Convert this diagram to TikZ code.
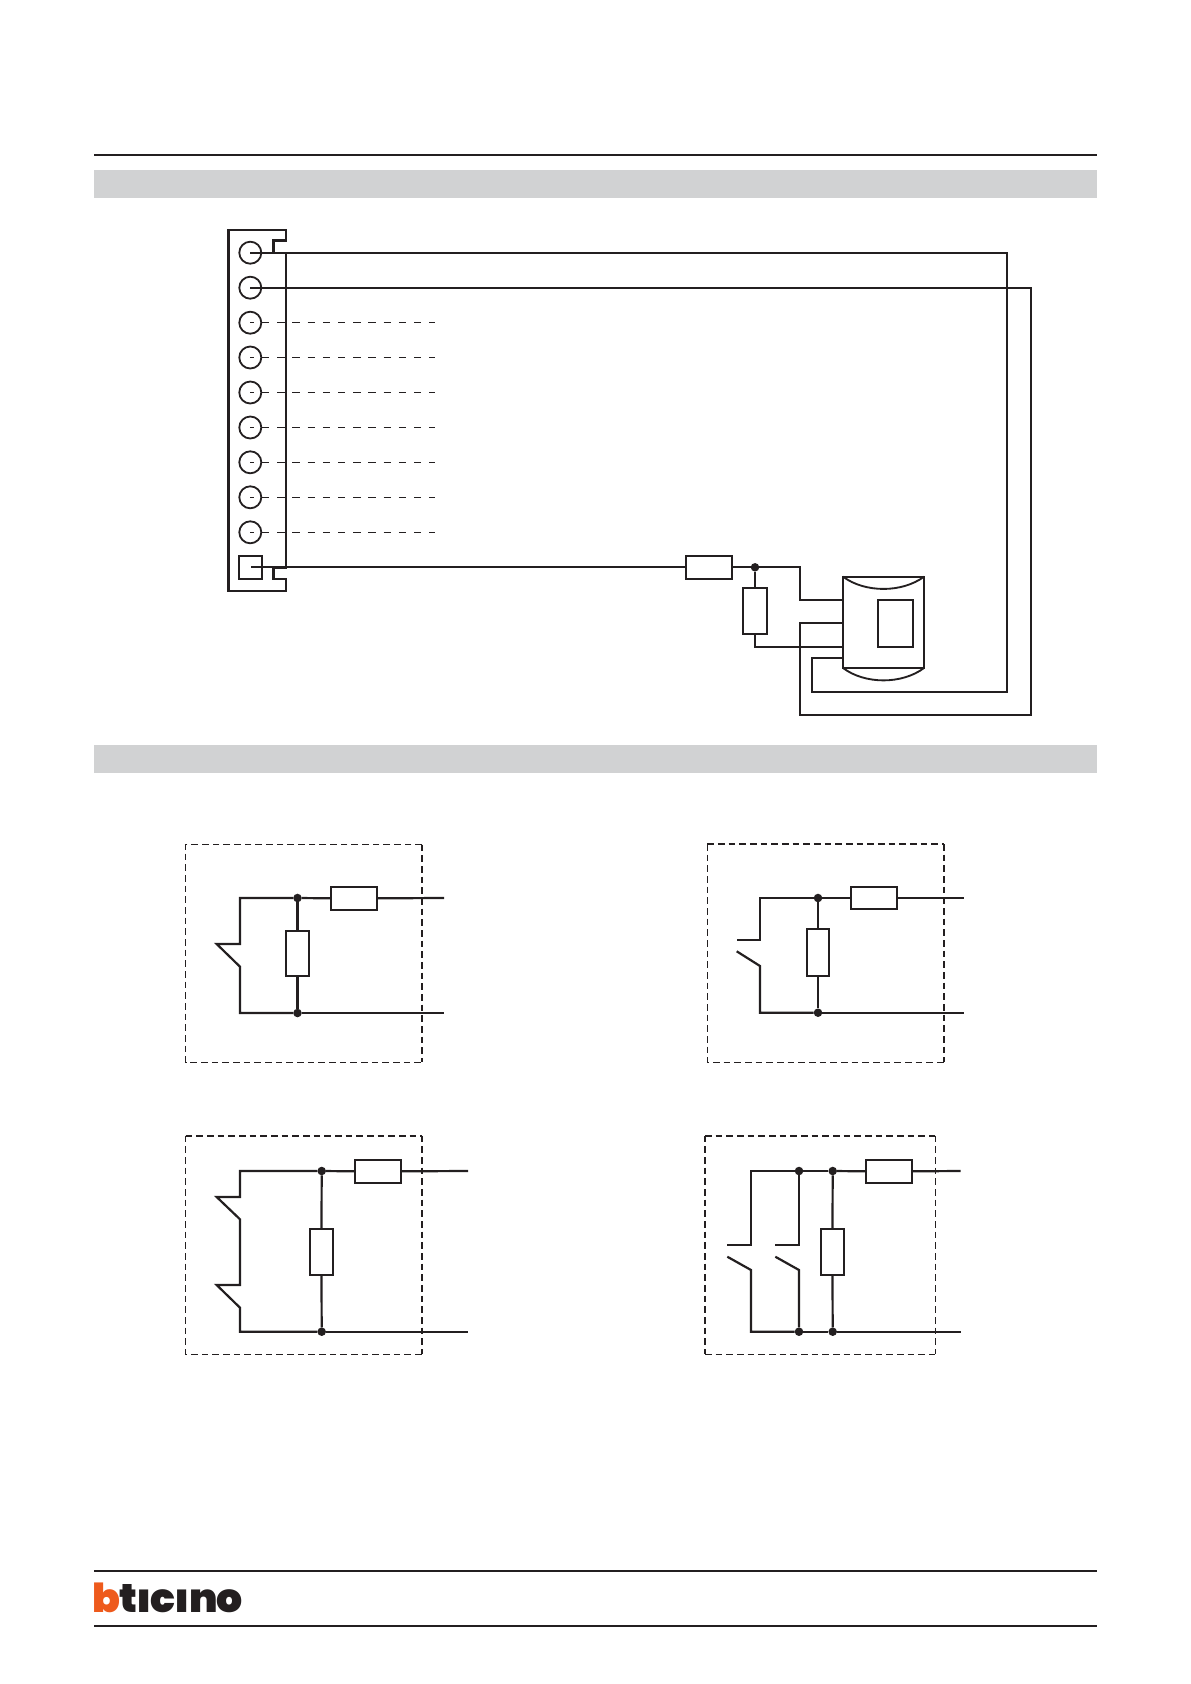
\documentclass[tikz,border=0pt]{standalone}
\usepackage{fontspec}
\newfontfamily\logofont{Poppins Black}[LetterSpace=-2.5]
\definecolor{ink}{HTML}{231F20}
\definecolor{band}{HTML}{D1D2D3}
\definecolor{logoorange}{HTML}{EE5A1C}
\tikzset{
  every node/.style={outer sep=0pt},
  wire/.style={draw=ink,line width=1.65pt,line cap=butt,line join=miter},
  rule/.style={draw=ink,line width=1.6pt},
  frameline/.style={draw=ink,line width=2.2pt},
  part/.style={draw=ink,line width=1.5pt,fill=white},
  term/.style={draw=ink,line width=1.35pt,circle,minimum size=16.5pt,inner sep=0pt},
  stub/.style={draw=ink,line width=0.9pt,dash pattern=on 5.5pt off 5.9pt,dash phase=2.6pt},
  boxthin/.style={draw=ink,line width=0.9pt,dash pattern=on 5pt off 3pt},
  boxthick/.style={draw=ink,line width=1.6pt,dash pattern=on 5pt off 3pt},
  dot/.style={circle,fill=ink,inner sep=0pt,minimum size=6.4pt},
  bandfill/.style={fill=band,draw=none},
}
\begin{document}
\begin{tikzpicture}[x=0.75pt,y=-0.75pt]
\useasboundingbox (0,0) rectangle (1191,1684);
% header
\coordinate (hl) at (94,155); \coordinate (hr) at (1097,155);
\draw[rule] (hl) -- (hr);
\fill[bandfill] (94,169.5) rectangle (1097,197.7);
\fill[bandfill] (94,744.5) rectangle (1097,772.7);
% connector body
\draw[frameline] (228.3,230) -- (286,230) -- (286,240.7) -- (273.3,240.7) -- (273.3,253) -- (286,253)
  -- (286,567.3) -- (273.3,567.3) -- (273.3,579) -- (286,579) -- (286,591) -- (228.3,591) -- cycle;
% terminals
\foreach \n/\y in {1/252.7,2/287.7,3/322.7,4/357.5,5/392.5,6/427.5,7/462.3,8/497.3,9/532.3}{
  \node[term] (t\n) at (250.3,\y) {};
  \coordinate (c\n) at (250.3,\y);
}
\foreach \n/\y in {3/322.7,4/357.5,5/392.5,6/427.5,7/462.3,8/497.3,9/532.3}{
  \coordinate (e\n) at (435,\y);
  \draw[stub] (c\n) -- (e\n);
}
\node[draw=ink,line width=1.35pt,minimum width=17.6pt,minimum height=17.4pt,inner sep=0pt] (t10) at (250.5,567.3) {};
\coordinate (c10) at (251,567.3);
% wires
\coordinate (w1a) at (1007.3,252.7); \coordinate (w1b) at (1007.3,692); \coordinate (w1c) at (812,692); \coordinate (w1d) at (812,657.7);
\coordinate (w2a) at (1031,287.7); \coordinate (w2b) at (1031,714.7); \coordinate (w2c) at (800,714.7); \coordinate (w2d) at (800,622.7);
% device
\node[draw=ink,line width=1.5pt,minimum width=60.75pt,minimum height=68.5pt,inner sep=0pt,anchor=north west] (dev) at (843,576.7) {};
\draw[wire] (c1) -- (w1a) -- (w1b) -- (w1c) -- (w1d) -- (843,657.7);
\draw[wire] (c2) -- (w2a) -- (w2b) -- (w2c) -- (w2d) -- (843,622.7);
\node[draw=ink,line width=1.5pt,minimum width=26.5pt,minimum height=35.25pt,inner sep=0pt,anchor=north west] (win) at (878,600) {};
\draw[draw=ink,line width=1.4pt] (843,576.7) .. controls (865,593) and (902,593) .. (924,576.7);
\draw[draw=ink,line width=1.4pt] (843,668) .. controls (865,684.5) and (902,684.5) .. (924,668);
% input network
\node[part,minimum width=34.5pt,minimum height=17.5pt,inner sep=0pt] (r1) at (708.5,567.3) {};
\node[part,minimum width=17.5pt,minimum height=35pt,inner sep=0pt] (r2) at (755,611) {};
\node[dot] (d0) at (755,567.3) {};
\draw[wire] (c10) -- (r1.west);
\draw[wire] (r1.east) -- (d0);
\draw[wire] (d0) -- (r2.north);
\draw[wire] (d0) -- (800,567.3) -- (800,600) -- (843,600);
\draw[wire] (r2.south) -- (755,646.7) -- (843,646.7);
% box 1
\draw[boxthin] (422,844.7) -- (185.7,844.7) -- (185.7,1062.3) -- (422,1062.3);
\draw[boxthick] (422,844.7) -- (422,1062.3);
\node[part,minimum width=34.5pt,minimum height=17.5pt,inner sep=0pt] (a1) at (354,898.3) {};
\node[part,minimum width=17.5pt,minimum height=34pt,inner sep=0pt] (a2) at (297.5,953.3) {};
\node[dot] (a3) at (297.5,898) {};
\node[dot] (a4) at (297.5,1013) {};
\coordinate (a5) at (444,898); \coordinate (a6) at (444,1013);
\draw[wire] (a3) -- (240,898) -- (240,944) -- (216.7,944) -- (240,966.7) -- (240,1013) -- (a4);
\draw[wire] (a3) -- (a1.west); \draw[wire] (a1.east) -- (a5);
\draw[wire] (a3) -- (a2.north); \draw[wire] (a2.south) -- (a4); \draw[wire] (a4) -- (a6);
% box 2
\draw[boxthick,line width=1.2pt] (707.3,844) -- (944,844);
\draw[boxthin] (707.3,844) -- (707.3,1062.3) -- (944,1062.3);
\draw[boxthick] (944,844) -- (944,1062.3);
\node[part,minimum width=34.5pt,minimum height=17.2pt,inner sep=0pt] (b1) at (874,898) {};
\node[part,minimum width=17pt,minimum height=35pt,inner sep=0pt] (b2) at (818,952.7) {};
\node[dot] (b3) at (818,898) {};
\node[dot] (b4) at (818,1012.7) {};
\coordinate (b5) at (964,898); \coordinate (b6) at (964,1012.7);
\draw[wire] (b3) -- (760,898) -- (760,939.7) -- (736.7,939.7);
\draw[wire] (736.7,951.3) -- (760,966) -- (760,1012.7) -- (b4);
\draw[wire] (b3) -- (b1.west); \draw[wire] (b1.east) -- (b5);
\draw[wire] (b3) -- (b2.north); \draw[wire] (b2.south) -- (b4); \draw[wire] (b4) -- (b6);
% box 3
\draw[boxthick,line width=1.2pt] (185.7,1135.7) -- (422,1135.7);
\draw[boxthin] (185.7,1135.7) -- (185.7,1354.3) -- (422,1354.3);
\draw[boxthick] (422,1135.7) -- (422,1354.3);
\node[part,minimum width=34.5pt,minimum height=17.5pt,inner sep=0pt] (e1) at (378,1171.3) {};
\node[part,minimum width=17.5pt,minimum height=35pt,inner sep=0pt] (e2) at (321.5,1252) {};
\node[dot] (e3) at (321.7,1171) {};
\node[dot] (e4) at (321.7,1331.7) {};
\coordinate (e5) at (468,1171); \coordinate (e6) at (468,1331.7);
\draw[wire] (e3) -- (240,1171) -- (240,1197) -- (216.7,1197) -- (240,1219.3) -- (240,1285) -- (216.7,1285) -- (240,1307.7) -- (240,1331.7) -- (e4);
\draw[wire] (e3) -- (e1.west); \draw[wire] (e1.east) -- (e5);
\draw[wire] (e3) -- (e2.north); \draw[wire] (e2.south) -- (e4); \draw[wire] (e4) -- (e6);
% box 4
\draw[boxthick,line width=1.2pt] (705,1135.7) -- (935.3,1135.7);
\draw[boxthin] (705,1354.3) -- (935.3,1354.3);
\draw[boxthick,line width=1.3pt] (705,1135.7) -- (705,1354.3);
\draw[boxthin] (935.3,1135.7) -- (935.3,1354.3);
\node[part,minimum width=34.5pt,minimum height=17.5pt,inner sep=0pt] (f1) at (889,1171.3) {};
\node[part,minimum width=17.5pt,minimum height=35pt,inner sep=0pt] (f2) at (832.5,1252) {};
\node[dot] (f3) at (799,1171) {};
\node[dot] (f4) at (832.7,1171) {};
\node[dot] (f7) at (799,1331.7) {};
\node[dot] (f8) at (832.7,1331.7) {};
\coordinate (f5) at (960.7,1171); \coordinate (f6) at (960.7,1331.7);
\draw[wire] (f3) -- (751,1171) -- (751,1245) -- (727.3,1245);
\draw[wire] (727.3,1256.7) -- (751,1270) -- (751,1331.7) -- (f7);
\draw[wire] (f3) -- (799,1245) -- (775.3,1245);
\draw[wire] (775.3,1256.7) -- (799,1270) -- (f7);
\draw[wire] (f3) -- (f4); \draw[wire] (f7) -- (f8);
\draw[wire] (f4) -- (f1.west); \draw[wire] (f1.east) -- (f5);
\draw[wire] (f4) -- (f2.north); \draw[wire] (f2.south) -- (f8); \draw[wire] (f8) -- (f6);
% footer
\draw[rule] (94,1570.7) -- (1097,1570.7);
\draw[rule] (94,1625.7) -- (1097,1625.7);
\node[anchor=base west,inner sep=0pt,text=ink] (logo) at (92,1612.7)
  {\scalebox{1.025}[1.0]{\fontsize{30pt}{30pt}\logofont\textcolor{logoorange}{b}tıcıno}};
\end{tikzpicture}
\end{document}
